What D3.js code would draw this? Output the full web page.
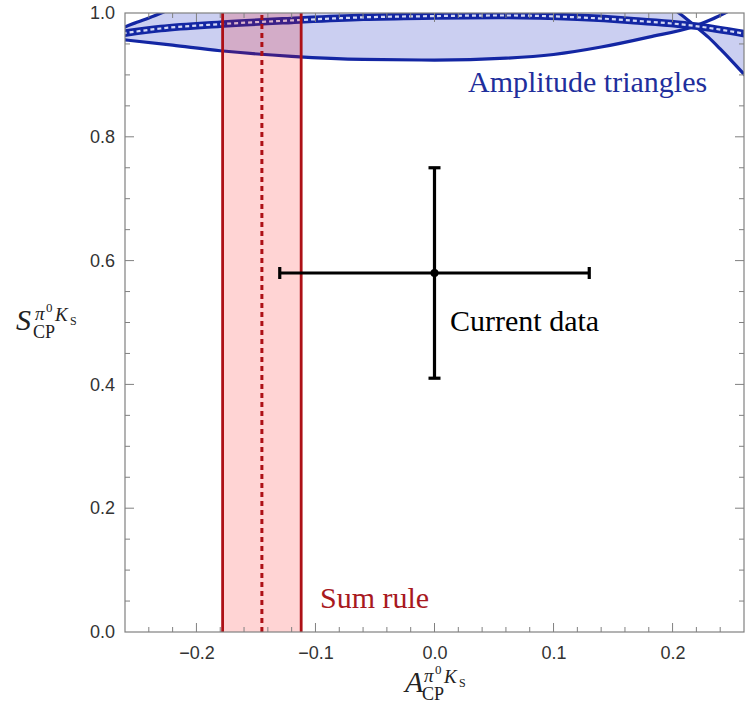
<!DOCTYPE html>
<html>
<head>
<meta charset="utf-8">
<script src="https://cdn.jsdelivr.net/npm/d3@7"></script>
<style>
  body { margin: 0; background: #fff; }
  svg { display: block; }
</style>
</head>
<body>
<div id="chart"></div>
<script>
// axis ticks
var xMajorTicks = [-0.2, -0.1, 0.0, 0.1, 0.2]
var yMajorTicks = [0.0, 0.2, 0.4, 0.6, 0.8, 1.0]

// sum rule band: [low, central, high]
var sumRule = [-0.178, -0.145, -0.112]

// current data point: A_CP +- err, S_CP +- err
var currentA = [0.0, 0.13]
var currentS = [0.58, 0.17]

// amplitude triangle curves, pairs of [A_CP, S_CP]
var crossPoint = [0.219, 0.979]
var lowerCurve = [[-0.262, 0.957], [-0.22, 0.948], [-0.18, 0.939], [-0.12, 0.930], [-0.06, 0.925],
    [0.0, 0.924], [0.06, 0.927], [0.10, 0.933], [0.14, 0.945], [0.18, 0.961], [0.219, 0.979],
    [0.232, 0.989], [0.246, 1.002]]
var bandCurve = [[-0.262, 0.967], [-0.23, 0.975], [-0.18, 0.982], [-0.12, 0.988], [-0.06, 0.993],
    [0.0, 0.995], [0.06, 0.996], [0.12, 0.993], [0.165, 0.988], [0.219, 0.979], [0.262, 0.966]]
var upperLeftCurve = [[-0.262, 0.976], [-0.25, 0.985], [-0.24, 0.992], [-0.227, 1.002]]
var steepCurve = [[0.204, 1.002], [0.212, 0.990], [0.219, 0.979], [0.23, 0.961], [0.24, 0.942],
    [0.25, 0.922], [0.262, 0.897]]

var width = 752
var height = 705
var margin = {left: 125, right: 8, top: 13, bottom: 73}

var x = d3.scaleLinear().domain([-0.26, 0.26]).range([margin.left, width - margin.right])
var y = d3.scaleLinear().domain([0, 1]).range([height - margin.bottom, margin.top])

var blueLine = "#1326a3"
var blueFill = "rgba(20,35,190,0.22)"
var redLine = "#ad1016"
var redFill = "rgba(255,0,0,0.17)"

var svg = d3.select("#chart").append("svg")
    .attr("width", width)
    .attr("height", height)

svg.append("defs").append("clipPath").attr("id", "plotclip")
    .append("rect")
    .attr("x", x(-0.26)).attr("y", y(1))
    .attr("width", x(0.26) - x(-0.26)).attr("height", y(0) - y(1))

var plot = svg.append("g").attr("clip-path", "url(#plotclip)")

var line = d3.line()
    .x(function(d) { return x(d[0]); })
    .y(function(d) { return y(d[1]); })
    .curve(d3.curveMonotoneX)

// filled amplitude-triangle region, pieced together from the curves
var leftPart = lowerCurve.filter(function(d) { return d[0] <= crossPoint[0]; })
var steepDown = steepCurve.filter(function(d) { return d[0] >= crossPoint[0]; })
var steepUp = steepCurve.filter(function(d) { return d[0] <= crossPoint[0]; }).reverse()
var bandBack = bandCurve.filter(function(d) { return d[0] >= crossPoint[0]; }).reverse()
var region = [].concat(leftPart, steepDown, bandBack, steepUp,
    [[-0.227, 1.02]], upperLeftCurve.slice().reverse())

var lineClosed = d3.line()
    .x(function(d) { return x(d[0]); })
    .y(function(d) { return y(d[1]); })
    .curve(d3.curveLinear)

plot.append("path")
    .attr("d", lineClosed(region) + "Z")
    .attr("fill", blueFill)
    .attr("stroke", "none")

// blue curves
;[lowerCurve, upperLeftCurve, steepCurve].forEach(function(c) {
    plot.append("path")
        .attr("d", line(c))
        .attr("fill", "none")
        .attr("stroke", blueLine)
        .attr("stroke-width", 3.2)
})

plot.append("path")
    .attr("d", line(bandCurve))
    .attr("fill", "none")
    .attr("stroke", blueLine)
    .attr("stroke-width", 7.5)

plot.append("path")
    .attr("d", line(bandCurve))
    .attr("fill", "none")
    .attr("stroke", "#d3d7f4")
    .attr("stroke-width", 2.2)
    .attr("stroke-dasharray", "4,3")

// sum rule band
plot.append("rect")
    .attr("x", x(sumRule[0]))
    .attr("y", y(1))
    .attr("width", x(sumRule[2]) - x(sumRule[0]))
    .attr("height", y(0) - y(1))
    .attr("fill", redFill)

;[sumRule[0], sumRule[2]].forEach(function(v) {
    plot.append("line")
        .attr("x1", x(v)).attr("x2", x(v))
        .attr("y1", y(0)).attr("y2", y(1))
        .attr("stroke", redLine)
        .attr("stroke-width", 2.8)
})

plot.append("line")
    .attr("x1", x(sumRule[1])).attr("x2", x(sumRule[1]))
    .attr("y1", y(0)).attr("y2", y(1))
    .attr("stroke", redLine)
    .attr("stroke-width", 3)
    .attr("stroke-dasharray", "5,4")

// current data with error bars
var cx = x(currentA[0]), cy = y(currentS[0])
var bars = svg.append("g").attr("stroke", "#000").attr("stroke-width", 3.2)
bars.append("line")
    .attr("x1", x(currentA[0] - currentA[1])).attr("x2", x(currentA[0] + currentA[1]))
    .attr("y1", cy).attr("y2", cy)
bars.append("line")
    .attr("x1", cx).attr("x2", cx)
    .attr("y1", y(currentS[0] - currentS[1])).attr("y2", y(currentS[0] + currentS[1]))
;[currentA[0] - currentA[1], currentA[0] + currentA[1]].forEach(function(v) {
    bars.append("line")
        .attr("x1", x(v)).attr("x2", x(v))
        .attr("y1", cy - 6).attr("y2", cy + 6)
})
;[currentS[0] - currentS[1], currentS[0] + currentS[1]].forEach(function(v) {
    bars.append("line")
        .attr("x1", cx - 6).attr("x2", cx + 6)
        .attr("y1", y(v)).attr("y2", y(v))
})
svg.append("circle").attr("cx", cx).attr("cy", cy).attr("r", 4).attr("fill", "#000")

// labels inside the plot
var serif = "'Liberation Serif', 'DejaVu Serif', serif"
svg.append("text").attr("x", 468).attr("y", 92)
    .style("font-family", serif).style("font-size", "30px")
    .attr("fill", "#1f2f9c").text("Amplitude triangles")
svg.append("text").attr("x", 320).attr("y", 608)
    .style("font-family", serif).style("font-size", "30px")
    .attr("fill", "#a8191e").text("Sum rule")
svg.append("text").attr("x", 450).attr("y", 331)
    .style("font-family", serif).style("font-size", "30px")
    .attr("fill", "#000").text("Current data")

// frame with ticks on all four sides
var frameColor = "#808080"
var axisBottom = d3.axisBottom(x).tickValues(xMajorTicks).tickSize(0).tickPadding(14)
    .tickFormat(function(d) { return d3.format(".1f")(d).replace("-", "\u2212"); })
var axisLeft = d3.axisLeft(y).tickValues(yMajorTicks).tickSize(0).tickPadding(10)
    .tickFormat(d3.format(".1f"))

var gx = svg.append("g").attr("transform", "translate(0," + y(0) + ")").call(axisBottom)
var gy = svg.append("g").attr("transform", "translate(" + x(-0.26) + ",0)").call(axisLeft)
;[gx, gy].forEach(function(g) {
    g.select(".domain").remove()
    g.selectAll("text")
        .style("font-family", "'Liberation Sans', Arial, sans-serif")
        .style("font-size", "18px")
        .attr("fill", "#333")
})

var ticks = svg.append("g").attr("stroke", frameColor).attr("stroke-width", 1)
var xMinor = d3.range(-24, 25, 2).map(function(i) { return i / 100; })
xMinor.forEach(function(v) {
    var major = xMajorTicks.some(function(m) { return Math.abs(m - v) < 1e-9; })
    var len = major ? 9 : 5
    ticks.append("line").attr("x1", x(v)).attr("x2", x(v)).attr("y1", y(0)).attr("y2", y(0) - len)
    ticks.append("line").attr("x1", x(v)).attr("x2", x(v)).attr("y1", y(1)).attr("y2", y(1) + len)
})
var yMinor = d3.range(1, 20).map(function(i) { return i * 0.05; })
yMinor.forEach(function(v) {
    var major = yMajorTicks.some(function(m) { return Math.abs(m - v) < 1e-9; })
    var len = major ? 9 : 5
    ticks.append("line").attr("x1", x(-0.26)).attr("x2", x(-0.26) + len).attr("y1", y(v)).attr("y2", y(v))
    ticks.append("line").attr("x1", x(0.26)).attr("x2", x(0.26) - len).attr("y1", y(v)).attr("y2", y(v))
})

svg.append("rect")
    .attr("x", x(-0.26)).attr("y", y(1))
    .attr("width", x(0.26) - x(-0.26)).attr("height", y(0) - y(1))
    .attr("fill", "none").attr("stroke", frameColor).attr("stroke-width", 1.2)

// axis titles: S_CP^{pi0 K_S} and A_CP^{pi0 K_S}
function axisTitle(letter, bx, by) {
    var g = svg.append("g").style("font-family", serif).attr("fill", "#222")
    g.append("text").attr("x", bx).attr("y", by).style("font-size", "30px")
        .style("font-style", "italic").text(letter)
    g.append("text").attr("x", bx + 17).attr("y", by + 8).style("font-size", "18px").text("CP")
    g.append("text").attr("x", bx + 19).attr("y", by - 10).style("font-size", "19px")
        .style("font-style", "italic").text("\u03c0")
    g.append("text").attr("x", bx + 30).attr("y", by - 18).style("font-size", "13px").text("0")
    g.append("text").attr("x", bx + 39).attr("y", by - 9).style("font-size", "19px")
        .style("font-style", "italic").text("K")
    g.append("text").attr("x", bx + 54).attr("y", by - 5).style("font-size", "12px").text("S")
}
axisTitle("S", 16, 330)
axisTitle("A", 405, 692)
</script>
</body>
</html>
